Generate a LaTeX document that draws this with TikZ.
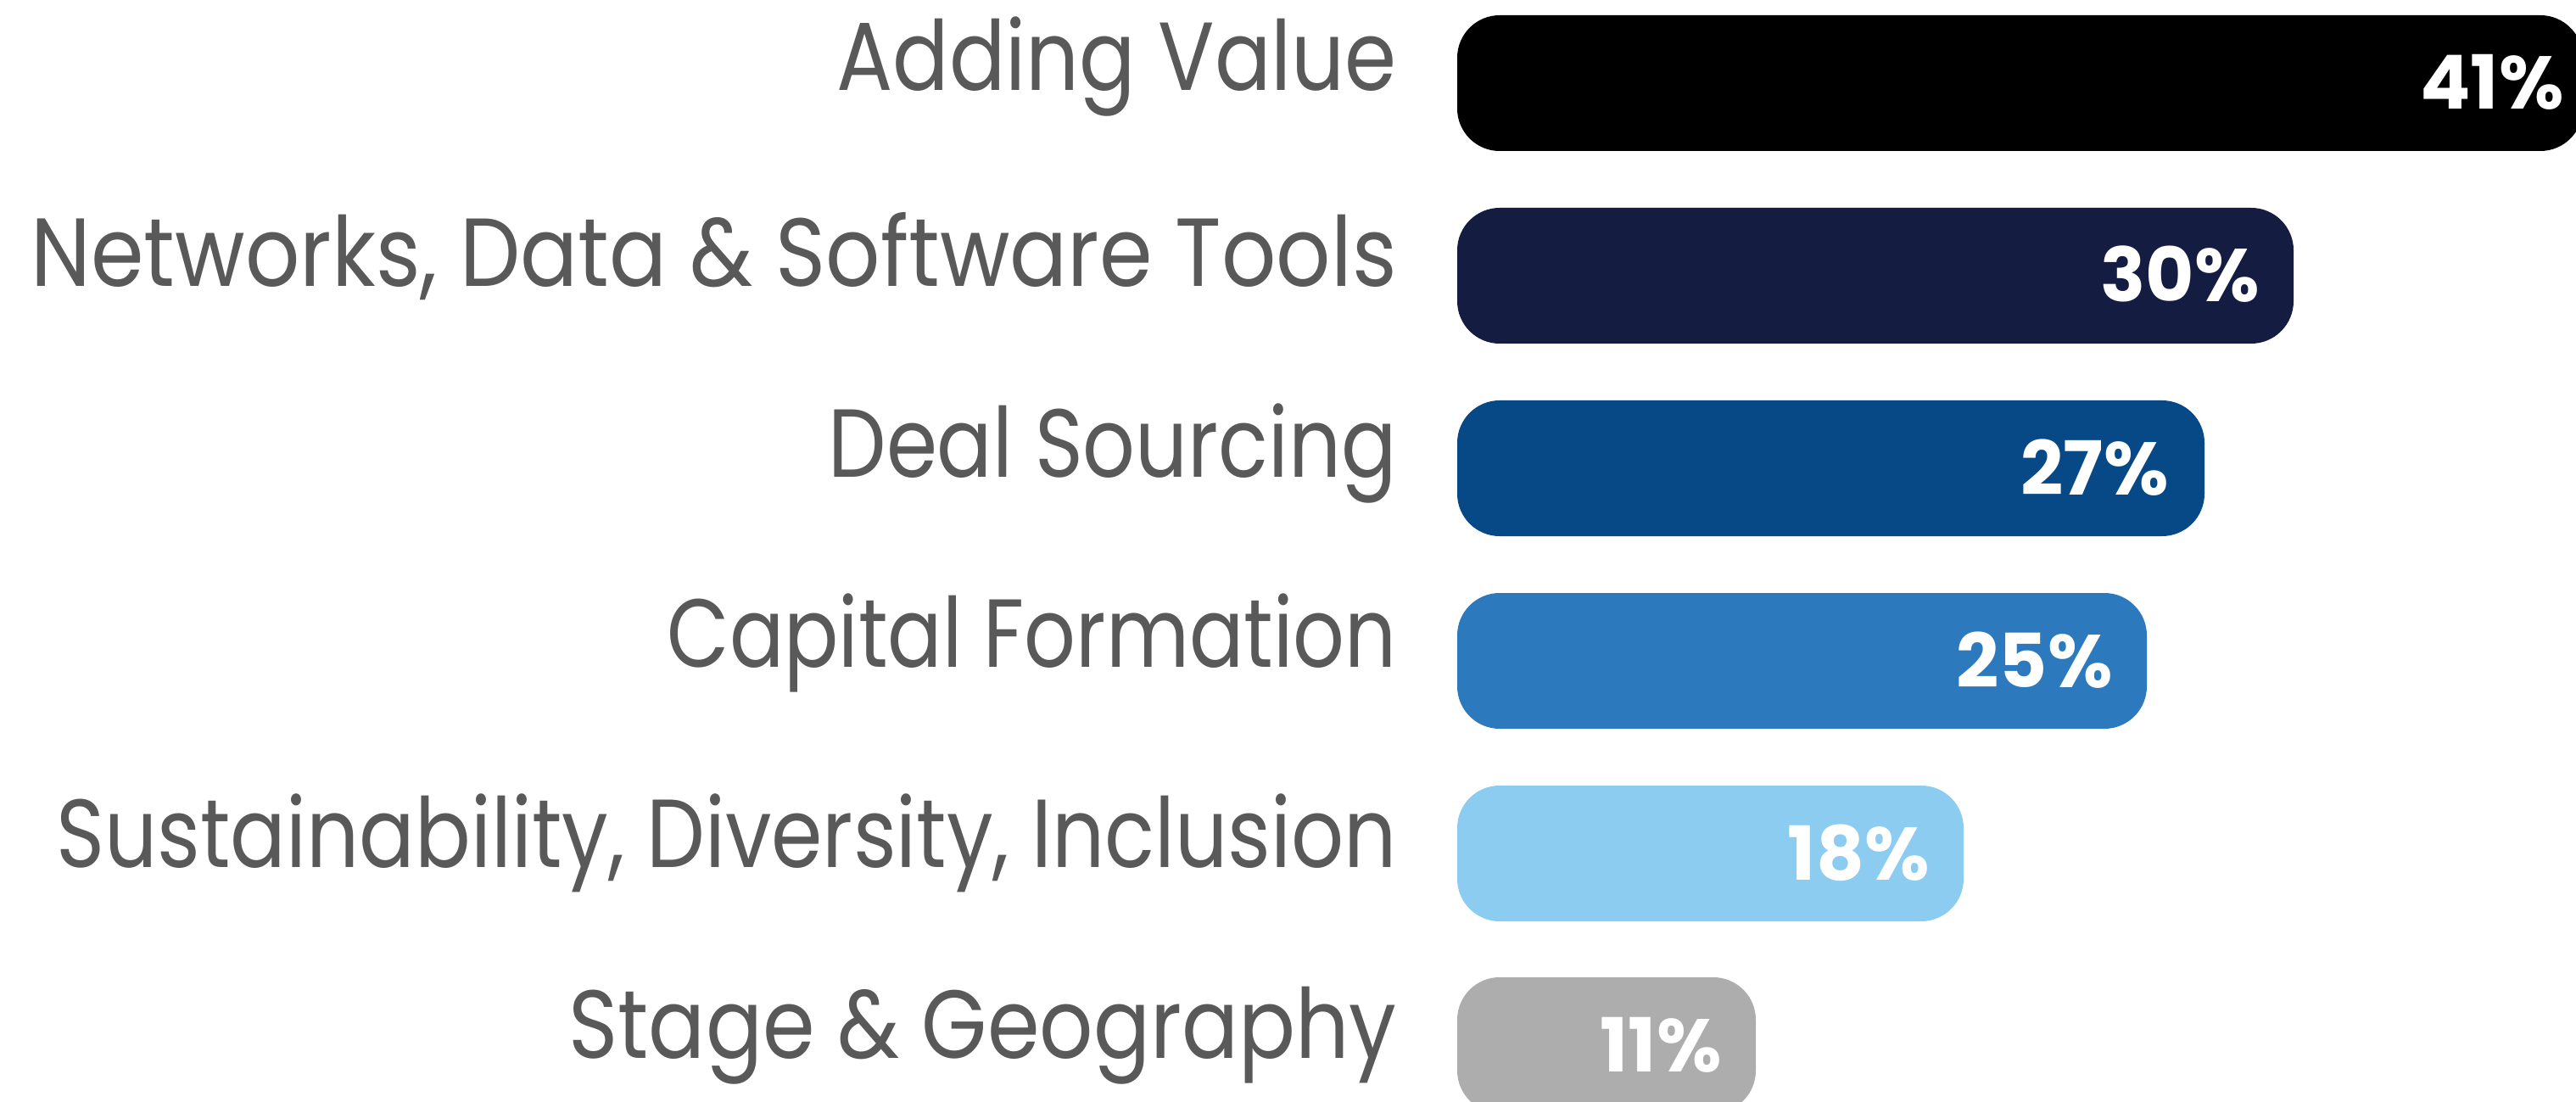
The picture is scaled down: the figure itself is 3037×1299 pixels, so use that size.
\documentclass[tikz,border=0pt]{standalone}
\usepackage{fontspec}
\usepackage{graphicx}
\setmainfont{Poppins}
\newfontfamily\pctfont{Poppins}[UprightFont=* Bold]
\definecolor{barA}{HTML}{000000}
\definecolor{barB}{HTML}{151C41}
\definecolor{barC}{HTML}{074887}
\definecolor{barD}{HTML}{2C7ABD}
\definecolor{barE}{HTML}{8BCCF0}
\definecolor{barF}{HTML}{ADADAD}
\definecolor{labgray}{HTML}{595959}
\newcommand{\fitlab}[2]{\resizebox{#1}{\height}{#2}}
\tikzset{
  barbox/.style={rounded corners=25pt},
  lab/.style={anchor=base east, inner sep=0pt, text=labgray, font=\fontsize{57}{57}\selectfont},
  pct/.style={anchor=base east, inner sep=0pt, text=white, font=\pctfont\fontsize{44}{44}\selectfont},
}
\begin{document}
\begin{tikzpicture}[x=0.5pt,y=-0.5pt]
\useasboundingbox (0,0) rectangle (3037,1299);
\clip (0,0) rectangle (3037,1299);
% bars
\fill[barA, barbox] (1718,18) rectangle (3045,178);
\fill[barB, barbox] (1718,245) rectangle (2704,405);
\fill[barC, barbox] (1718,472) rectangle (2599,632);
\fill[barD, barbox] (1718,699) rectangle (2531,859);
\fill[barE, barbox] (1718,926) rectangle (2315,1086);
\fill[barF, barbox] (1718,1152) rectangle (2070,1312);
% percentages
\node[pct] (p1) at (3023,129) {41\%};
\node[pct] (p2) at (2664,356) {30\%};
\node[pct] (p3) at (2557,583) {27\%};
\node[pct] (p4) at (2491,810) {25\%};
\node[pct] (p5) at (2275,1037) {18\%};
\node[pct] (p6) at (2030,1263) {11\%};
% labels
\node[lab] (l1) at (1647,107) {\fitlab{330pt}{Adding Value}};
\node[lab] (l2) at (1647,338) {\fitlab{805pt}{Networks, Data \& Software Tools}};
\node[lab] (l3) at (1647,562) {\fitlab{335pt}{Deal Sourcing}};
\node[lab] (l4) at (1647,786) {\fitlab{430pt}{Capital Formation}};
\node[lab] (l5) at (1647,1022) {\fitlab{790pt}{Sustainability, Diversity, Inclusion}};
\node[lab] (l6) at (1647,1247) {\fitlab{488pt}{Stage \& Geography}};
\end{tikzpicture}
\end{document}
